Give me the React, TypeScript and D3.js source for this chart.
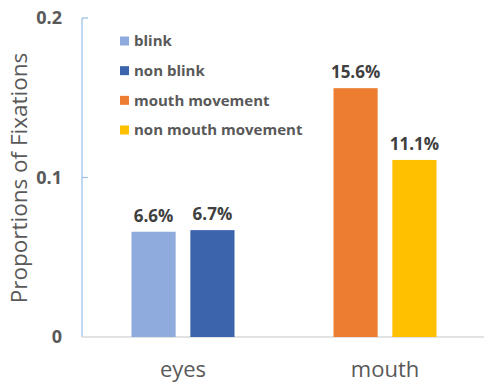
import React from "react";
import * as d3 from "d3";

// Fixation proportions by face region
const categories = ["eyes", "mouth"];
const seriesNames = [
  ["blink", "non blink"],
  ["mouth movement", "non mouth movement"],
];
const seriesValues = [
  [0.066, 0.067],
  [0.156, 0.111],
];
const barLabels = [
  ["6.6%", "6.7%"],
  ["15.6%", "11.1%"],
];
const barColors = [
  ["#8FAADC", "#3B64AD"],
  ["#ED7D31", "#FFC000"],
];
const yTicks = [0, 0.1, 0.2];
const yTickLabels = ["0", "0.1", "0.2"];
const legendNames = ["blink", "non blink", "mouth movement", "non mouth movement"];
const legendColors = ["#8FAADC", "#3B64AD", "#ED7D31", "#FFC000"];

const W = 484;
const H = 383;
const FONT = "'Open Sans', 'DejaVu Sans', sans-serif";

export default function App() {
  const x = d3.scaleBand<string>().domain(categories).range([82, 486]).paddingInner(0).paddingOuter(0);
  const y = d3.scaleLinear().domain([0, 0.2]).range([337, 18]);
  const inner = d3.scaleBand<number>().domain([0, 1]).range([0, 103]).paddingInner(0.25).paddingOuter(0);
  const legendY = d3.scalePoint<string>().domain(legendNames).range([41, 130]);

  return (
    <svg width={W} height={H} style={{ position: "absolute", left: 0, top: 0, background: "#fff" }}>
      {/* y title */}
      <text
        transform={`translate(27,178) rotate(-90)`}
        textAnchor="middle"
        fontFamily={FONT}
        fontSize={22.5}
        fill="#595959"
      >
        Proportions of Fixations
      </text>

      {/* y axis */}
      <line x1={82} x2={82} y1={y(0.2)} y2={y(0)} stroke="#9DC3E6" strokeWidth={1.3} />
      {yTicks.map((t, i) => (
        <g key={t}>
          {t > 0 && <line x1={82} x2={88} y1={y(t)} y2={y(t)} stroke="#9DC3E6" strokeWidth={1.3} />}
          <text
            x={62}
            y={y(t)}
            dy="0.35em"
            textAnchor="end"
            fontFamily={FONT}
            fontWeight="bold"
            fontSize={18}
            fill="#595959"
          >
            {yTickLabels[i]}
          </text>
        </g>
      ))}

      {/* baseline */}
      <line x1={82} x2={484} y1={y(0)} y2={y(0)} stroke="#D9D9D9" strokeWidth={1.3} />

      {/* bars */}
      {categories.map((c, ci) => {
        const gx = (x(c) as number) + x.bandwidth() / 2 - 103 / 2;
        return (
          <g key={c}>
            {seriesValues[ci].map((v, si) => {
              const bx = gx + (inner(si) as number);
              const bw = inner.bandwidth();
              return (
                <g key={si}>
                  <rect x={bx} y={y(v)} width={bw} height={y(0) - y(v)} fill={barColors[ci][si]}>
                    <title>{seriesNames[ci][si]}</title>
                  </rect>
                  <text
                    x={bx + bw / 2}
                    y={y(v) - 10}
                    textAnchor="middle"
                    fontFamily={FONT}
                    fontWeight="bold"
                    fontSize={17}
                    fill="#404040"
                  >
                    {barLabels[ci][si]}
                  </text>
                </g>
              );
            })}
            <text
              x={(x(c) as number) + x.bandwidth() / 2}
              y={377}
              textAnchor="middle"
              fontFamily={FONT}
              fontSize={22}
              fill="#595959"
            >
              {c}
            </text>
          </g>
        );
      })}

      {/* legend */}
      {legendNames.map((n, i) => (
        <g key={n} transform={`translate(120,${legendY(n)})`}>
          <rect x={0} y={-4.5} width={9} height={9} fill={legendColors[i]} />
          <text x={14} y={0} dy="0.35em" fontFamily={FONT} fontWeight="bold" fontSize={15} fill="#595959">
            {n}
          </text>
        </g>
      ))}
    </svg>
  );
}
